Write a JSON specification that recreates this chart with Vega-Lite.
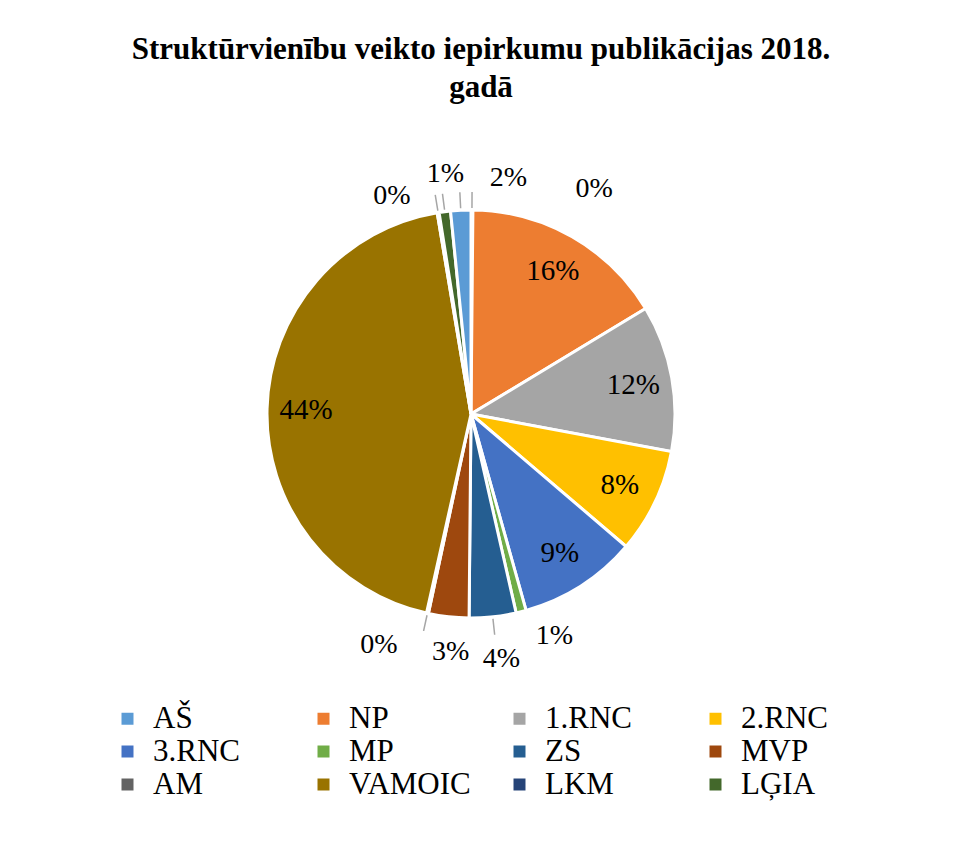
{
  "$schema": "https://vega.github.io/schema/vega-lite/v6.json",
  "width": 942,
  "height": 828,
  "padding": 0,
  "autosize": "none",
  "background": "white",
  "config": {"view": {"stroke": null}, "font": "Liberation Serif"},
  "title": {
    "text": ["Struktūrvienību veikto iepirkumu publikācijas 2018.", "gadā"],
    "font": "Liberation Serif",
    "fontSize": 31,
    "fontWeight": "bold",
    "color": "black",
    "anchor": "middle",
    "dx": 10,
    "offset": -104,
    "lineHeight": 38
  },
  "data": {
    "values": [
      {"unit": " ", "share": 0.0015},
      {"unit": "NP", "share": 0.162},
      {"unit": "1.RNC", "share": 0.116},
      {"unit": "2.RNC", "share": 0.083},
      {"unit": "3.RNC", "share": 0.094},
      {"unit": "MP", "share": 0.008},
      {"unit": "ZS", "share": 0.037},
      {"unit": "MVP", "share": 0.032},
      {"unit": "AM", "share": 0.0015},
      {"unit": "VAMOIC", "share": 0.4385},
      {"unit": "LKM", "share": 0.0015},
      {"unit": "LĢIA", "share": 0.009},
      {"unit": "AŠ", "share": 0.016}
    ]
  },
  "transform": [
    {"window": [{"op": "sum", "field": "share", "as": "cum"}], "frame": [null, 0]},
    {"calculate": "datum.cum - datum.share", "as": "start"},
    {"calculate": "datum.cum - datum.share / 2", "as": "mid"}
  ],
  "layer": [
    {
      "mark": {"type": "arc", "outerRadius": 204, "stroke": "white", "strokeWidth": 3},
      "encoding": {
        "theta": {"field": "start", "type": "quantitative", "scale": {"domain": [0, 1]}},
        "theta2": {"field": "cum"},
        "color": {
          "field": "unit",
          "type": "nominal",
          "scale": {
            "domain": [" ", "AŠ", "NP", "1.RNC", "2.RNC", "3.RNC", "MP", "ZS", "MVP", "AM", "VAMOIC", "LKM", "LĢIA"],
            "range": ["#ffffff", "#5B9BD5", "#ED7D31", "#A5A5A5", "#FFC000", "#4472C4", "#70AD47", "#255E91", "#9E480E", "#636363", "#997300", "#264478", "#43682B"]
          },
          "legend": {
            "values": ["AŠ", "NP", "1.RNC", "2.RNC", "3.RNC", "MP", "ZS", "MVP", "AM", "VAMOIC", "LKM", "LĢIA"],
            "orient": "none",
            "direction": "horizontal",
            "legendX": 112,
            "legendY": 703,
            "columns": 4,
            "title": null,
            "symbolType": "square",
            "symbolSize": 144,
            "symbolStrokeWidth": 0,
            "labelFont": "Liberation Serif",
            "labelFontSize": 31,
            "labelColor": "black",
            "labelLimit": 300,
            "labelOffset": 10,
            "gridAlign": "all",
            "columnPadding": 33,
            "rowPadding": 1
          }
        }
      }
    },
    {
      "transform": [{"filter": "indexof([' ','AŠ','LĢIA','LKM','ZS','AM'], datum.unit) >= 0"}],
      "mark": {"type": "arc", "innerRadius": 206, "outerRadius": 222, "stroke": "#a6a6a6", "strokeWidth": 1.5, "fill": null},
      "encoding": {
        "theta": {"field": "mid", "type": "quantitative"},
        "theta2": {"field": "mid"}
      }
    },
    {
      "transform": [{"filter": "indexof(['NP','1.RNC','2.RNC','3.RNC','VAMOIC'], datum.unit) >= 0"}],
      "mark": {"type": "text", "radius": 165, "font": "Liberation Serif", "fontSize": 29, "color": "black", "align": "center", "baseline": "middle"},
      "encoding": {"theta": {"field": "mid", "type": "quantitative"}, "text": {"field": "share", "type": "quantitative", "format": ".0%"}}
    },
    {
      "transform": [{"filter": "datum.unit === ' '"}],
      "mark": {"type": "text", "radius": 230, "dx": 122, "dy": 5, "font": "Liberation Serif", "fontSize": 28, "color": "black", "align": "center", "baseline": "middle"},
      "encoding": {"theta": {"field": "mid", "type": "quantitative"}, "text": {"field": "share", "type": "quantitative", "format": ".0%"}}
    },
    {
      "transform": [{"filter": "datum.unit === 'AŠ'"}],
      "mark": {"type": "text", "radius": 230, "dx": 49, "dy": -6, "font": "Liberation Serif", "fontSize": 28, "color": "black", "align": "center", "baseline": "middle"},
      "encoding": {"theta": {"field": "mid", "type": "quantitative"}, "text": {"field": "share", "type": "quantitative", "format": ".0%"}}
    },
    {
      "transform": [{"filter": "datum.unit === 'LĢIA'"}],
      "mark": {"type": "text", "radius": 230, "dx": 4, "dy": -12, "font": "Liberation Serif", "fontSize": 28, "color": "black", "align": "center", "baseline": "middle"},
      "encoding": {"theta": {"field": "mid", "type": "quantitative"}, "text": {"field": "share", "type": "quantitative", "format": ".0%"}}
    },
    {
      "transform": [{"filter": "datum.unit === 'LKM'"}],
      "mark": {"type": "text", "radius": 230, "dx": -42, "dy": 9, "font": "Liberation Serif", "fontSize": 28, "color": "black", "align": "center", "baseline": "middle"},
      "encoding": {"theta": {"field": "mid", "type": "quantitative"}, "text": {"field": "share", "type": "quantitative", "format": ".0%"}}
    },
    {
      "transform": [{"filter": "datum.unit === 'MP'"}],
      "mark": {"type": "text", "radius": 230, "dx": 27, "dy": -1, "font": "Liberation Serif", "fontSize": 28, "color": "black", "align": "center", "baseline": "middle"},
      "encoding": {"theta": {"field": "mid", "type": "quantitative"}, "text": {"field": "share", "type": "quantitative", "format": ".0%"}}
    },
    {
      "transform": [{"filter": "datum.unit === 'ZS'"}],
      "mark": {"type": "text", "radius": 230, "dx": 6, "dy": 16, "font": "Liberation Serif", "fontSize": 28, "color": "black", "align": "center", "baseline": "middle"},
      "encoding": {"theta": {"field": "mid", "type": "quantitative"}, "text": {"field": "share", "type": "quantitative", "format": ".0%"}}
    },
    {
      "transform": [{"filter": "datum.unit === 'MVP'"}],
      "mark": {"type": "text", "radius": 230, "dx": 5, "dy": 9, "font": "Liberation Serif", "fontSize": 28, "color": "black", "align": "center", "baseline": "middle"},
      "encoding": {"theta": {"field": "mid", "type": "quantitative"}, "text": {"field": "share", "type": "quantitative", "format": ".0%"}}
    },
    {
      "transform": [{"filter": "datum.unit === 'AM'"}],
      "mark": {"type": "text", "radius": 230, "dx": -43, "dy": 6, "font": "Liberation Serif", "fontSize": 28, "color": "black", "align": "center", "baseline": "middle"},
      "encoding": {"theta": {"field": "mid", "type": "quantitative"}, "text": {"field": "share", "type": "quantitative", "format": ".0%"}}
    }
  ]
}
